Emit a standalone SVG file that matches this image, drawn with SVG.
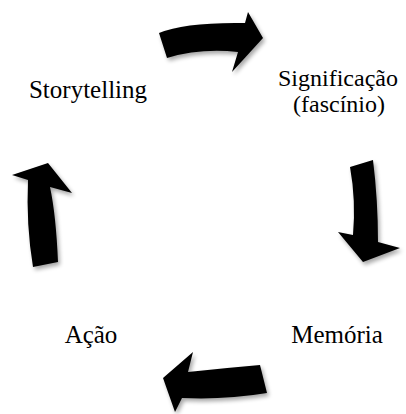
<svg xmlns="http://www.w3.org/2000/svg" width="406" height="414" viewBox="0 0 406 414">
<defs>
<filter id="sh" x="-30%" y="-30%" width="160%" height="160%">
<feGaussianBlur in="SourceAlpha" stdDeviation="2"/>
<feOffset dx="2" dy="3" result="b"/>
<feComponentTransfer><feFuncA type="linear" slope="0.35"/></feComponentTransfer>
<feMerge><feMergeNode/><feMergeNode in="SourceGraphic"/></feMerge>
</filter>
</defs>
<style>
text{font-family:'Liberation Serif','Times New Roman',serif;font-size:25px;fill:#000;text-anchor:middle}
.s{font-size:24px}
.arr{fill:#000;filter:url(#sh)}
</style>
<rect width="406" height="414" fill="#fff"/>
<g id="connectors">
<path class="arr" d="M159,33 Q185,22 245,23 L248,12 L263,38 L232,72 L238,52 Q200,48 167,58 Z"/>
<path class="arr" d="M350,167 L373,160 Q378,200 378,242 L400,248 L363,262 L338,232 L353,235 Q356,200 350,167 Z"/>
<path class="arr" d="M260,365 L267,393 Q225,400 182,398 L175,412 L163,378 L193,352 L188,372 Q225,368 260,365 Z"/>
<path class="arr" d="M33,267 L58,262 Q56,215 50,187 L72,193 L48,163 L12,175 L28,180 Q26,225 33,267 Z"/>
</g>
<g id="storytelling"><text x="88" y="98">Storytelling</text></g>
<g id="significacao"><text class="s" x="338" y="86">Significação</text><text class="s" x="339" y="112">(fascínio)</text></g>
<g id="memoria"><text x="337" y="343">Memória</text></g>
<g id="acao"><text x="91" y="343">Ação</text></g>
</svg>
